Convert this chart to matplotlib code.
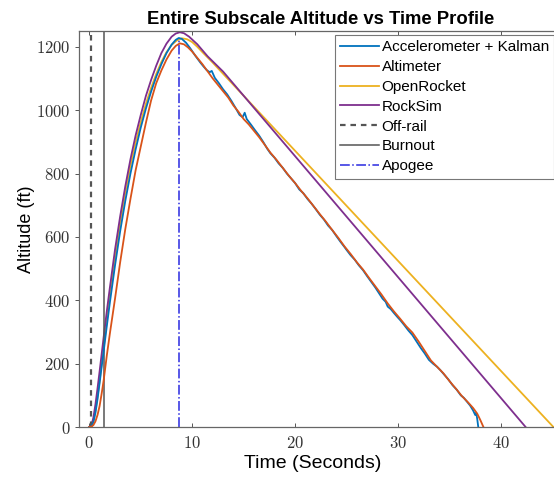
import matplotlib
matplotlib.use("Agg")
import matplotlib.pyplot as plt

# ---------------- data ----------------
t_accel = [0.0, 0.2, 0.4, 0.6, 0.8, 1.0, 1.2, 1.4, 1.7, 2.0, 2.5, 3.0, 3.5, 4.0, 4.5,
           5.0, 5.5, 6.0, 6.5, 7.0, 7.5, 8.0, 8.4, 8.7, 9.0, 9.4, 9.8, 10.3, 10.8,
           11.1, 11.4, 11.7, 11.9, 12.2, 12.6, 13.0, 13.4, 13.8, 14.2, 14.6, 14.9,
           15.1, 15.3, 15.7, 16.1, 16.5, 16.9, 17.3, 17.6, 18.0, 18.4, 18.8, 19.2,
           19.6, 20.0, 20.4, 20.8, 21.2, 21.6, 22.0, 22.4, 22.8, 23.2, 23.6, 24.0,
           24.4, 24.8, 25.0, 25.4, 25.8, 26.2, 26.6, 27.0, 27.4, 27.8, 28.2, 28.5,
           28.8, 29.0, 29.3, 29.6, 30.0, 30.2, 30.6, 31.0, 31.4, 31.8, 32.2, 32.6,
           33.0, 33.4, 33.8, 34.1, 34.5, 34.9, 35.3, 35.7, 36.1, 36.4, 36.7, 37.0,
           37.3, 37.5, 37.6, 37.7, 37.8]
h_accel = [0, 2, 15, 45, 88, 138, 190, 240, 318, 393, 510, 618, 714, 800, 876,
           945, 1005, 1058, 1105, 1145, 1180, 1207, 1222, 1228, 1225, 1213, 1196, 1172, 1150,
           1138, 1127, 1120, 1124, 1102, 1085, 1066, 1050, 1030, 1008, 985, 978,
           992, 972, 955, 937, 920, 900, 878, 864, 850, 832, 818, 800,
           785, 770, 750, 738, 720, 705, 688, 670, 655, 636, 622, 603,
           585, 568, 559, 542, 528, 510, 495, 476, 458, 440, 420, 405,
           395, 380, 372, 360, 345, 338, 322, 305, 290, 270, 250, 232,
           212, 200, 190, 180, 165, 150, 132, 118, 100, 92, 80, 68,
           52, 38, 45, 25, 0]

t_alt = [0.0, 0.2, 0.4, 0.6, 0.8, 1.0, 1.2, 1.4, 1.7, 2.0, 2.5, 3.0, 3.5, 4.0, 4.5,
         5.0, 5.5, 6.0, 6.5, 7.0, 7.5, 8.0, 8.4, 8.8, 9.2, 9.6, 10.0, 10.5, 11.0,
         11.4, 12.0, 12.5, 13.0, 13.5, 14.0, 14.5, 15.0, 15.5, 16.0, 16.5, 17.0,
         17.6, 18.2, 18.8, 19.4, 20.0, 20.6, 21.2, 21.8, 22.4, 23.0, 23.6, 24.2,
         24.8, 25.4, 26.0, 26.6, 27.2, 27.8, 28.4, 29.0, 29.6, 30.2, 30.8, 31.4,
         32.0, 32.6, 33.2, 33.8, 34.4, 35.0, 35.6, 36.2, 36.8, 37.3, 37.7, 38.0, 38.3]
h_alt = [0, 1, 6, 18, 38, 66, 105, 148, 225, 295, 405, 520, 625, 720, 810,
         885, 960, 1030, 1085, 1125, 1160, 1188, 1203, 1211, 1208, 1198, 1185, 1165, 1145,
         1127, 1100, 1080, 1060, 1040, 1015, 995, 972, 955, 935, 915, 893,
         866, 843, 818, 793, 770, 745, 722, 697, 672, 648, 622, 597,
         570, 546, 520, 497, 470, 444, 418, 390, 365, 342, 318, 298,
         270, 240, 210, 190, 170, 145, 122, 98, 78, 60, 42, 22, 0]

t_openrocket = [0.0, 0.2, 0.4, 0.6, 0.8, 1.0, 1.2, 1.4, 1.7, 2.0, 2.5, 3.0, 3.5, 4.0,
                4.5, 5.0, 5.5, 6.0, 6.5, 7.0, 7.5, 8.0, 8.5, 9.0, 9.5, 10.0, 10.5,
                11.0, 12.0, 13.0, 45.1]
h_openrocket = [0, 2, 20, 52, 95, 145, 198, 250, 335, 415, 535, 645, 740, 825,
                898, 962, 1020, 1070, 1114, 1152, 1183, 1206, 1220, 1227, 1224, 1215, 1200,
                1183, 1150, 1115, 0]

t_rocksim = [0.0, 0.2, 0.4, 0.6, 0.8, 1.0, 1.2, 1.4, 1.7, 2.0, 2.5, 3.0, 3.5, 4.0,
             4.5, 5.0, 5.5, 6.0, 6.5, 7.0, 7.5, 8.0, 8.4, 8.8, 9.2, 9.7, 10.5,
             11.5, 13.0, 42.4]
h_rocksim = [0, 4, 30, 72, 122, 175, 230, 285, 365, 440, 560, 665, 760, 845,
             920, 985, 1045, 1095, 1140, 1180, 1210, 1232, 1242, 1246, 1243, 1232, 1208,
             1170, 1122, 0]

offrail_time = 0.2
burnout_time = 1.4
apogee_time = 8.67
apogee_alt = 1228

series_labels = ["Accelerometer + Kalman", "Altimeter", "OpenRocket", "RockSim",
                 "Off-rail", "Burnout", "Apogee"]
x_ticks = [0, 10, 20, 30, 40]
y_ticks = [0, 200, 400, 600, 800, 1000, 1200]

# ---------------- figure ----------------
plt.rcParams['axes.formatter.use_mathtext'] = True
W, H = 554, 482
fig = plt.figure(figsize=(W / 100, H / 100), dpi=100)
ax = fig.add_axes([79 / W, (H - 427) / H, (575 - 79) / W, (427 - 31) / H])

c_blue = '#0072BD'
c_orange = '#D95319'
c_yellow = '#EDB120'
c_purple = '#7E2F8E'

ax.plot(t_accel, h_accel, color=c_blue, lw=1.3, label=series_labels[0], zorder=3)
ax.plot(t_alt, h_alt, color=c_orange, lw=1.3, label=series_labels[1], zorder=3)
ax.plot(t_openrocket, h_openrocket, color=c_yellow, lw=1.3, label=series_labels[2], zorder=2)
ax.plot(t_rocksim, h_rocksim, color=c_purple, lw=1.3, label=series_labels[3], zorder=2)
ax.axvline(offrail_time, color='#555555', lw=1.6, ls=(0, (2.5, 2.2)), label=series_labels[4])
ax.axvline(burnout_time, color='#555555', lw=1.1, label=series_labels[5])
ax.vlines(apogee_time, 0, apogee_alt, color='#2a2ae0', lw=1.1, ls='-.', label=series_labels[6])

ax.set_xlim(-1, 47.2)
ax.set_ylim(0, 1250)
ax.set_xticks(x_ticks)
ax.set_yticks(y_ticks)
ax.tick_params(axis='x', direction='in', top=True, length=3, width=0.7, color='#555555',
               labelsize=12, labelcolor='#333333', pad=6)
ax.tick_params(axis='y', direction='out', length=3, width=0.7, color='#555555',
               labelsize=12, labelcolor='#333333', pad=3)
for lab in ax.get_xticklabels() + ax.get_yticklabels():
    lab.set_fontfamily('cmr10')
for sp in ax.spines.values():
    sp.set_color('#666666')
    sp.set_linewidth(0.9)

ax.set_title("Entire Subscale Altitude vs Time Profile", fontsize=13.3, fontweight='bold',
             family='Liberation Sans', pad=5, x=(321 - 79) / (575 - 79))
ax.set_xlabel("Time (Seconds)", fontsize=14, family='Liberation Sans', labelpad=3,
              x=(313 - 79) / (575 - 79))
ax.set_ylabel("Altitude (ft)", fontsize=13, family='Liberation Sans', labelpad=1)

leg = ax.legend(loc='upper left', bbox_to_anchor=(335 / W, 1 - 35 / H),
                bbox_transform=fig.transFigure, fancybox=False, framealpha=1,
                edgecolor='#777777', prop={'family': 'Liberation Sans', 'size': 11},
                handlelength=2.5, handletextpad=0.2, labelspacing=0.38,
                borderpad=0.35, borderaxespad=0)
leg.get_frame().set_linewidth(0.8)

fig.savefig("out.png", dpi=100)
